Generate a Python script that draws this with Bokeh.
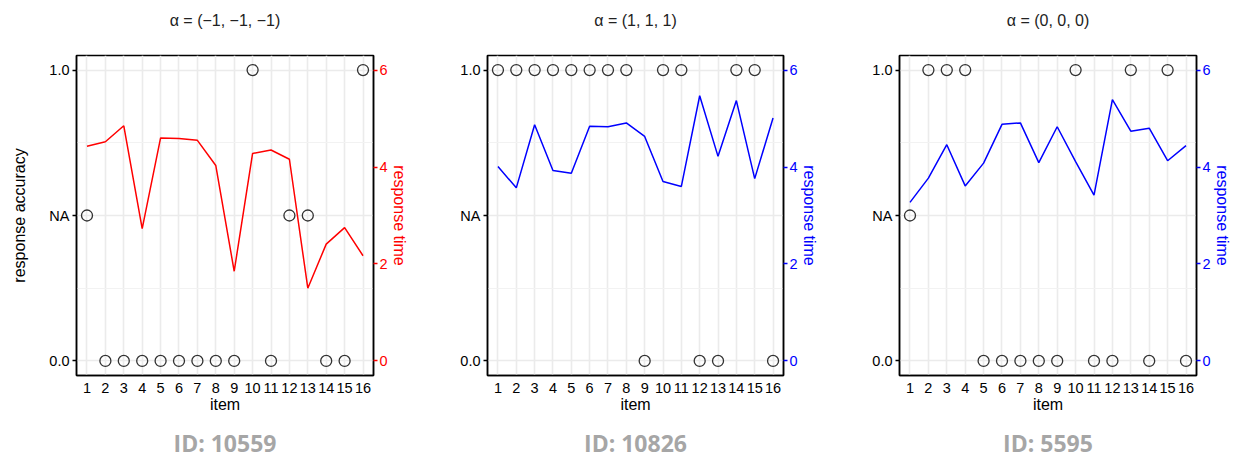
from bokeh.plotting import figure
from bokeh.models import Range1d, LinearAxis, FixedTicker, Title
from bokeh.layouts import row
from bokeh.embed import file_html
from bokeh.resources import INLINE

items = list(range(1, 17))

titles = ["α = (−1, −1, −1)", "α = (1, 1, 1)", "α = (0, 0, 0)"]
ids = ["ID: 10559", "ID: 10826", "ID: 5595"]
line_colors = ["#ff0000", "#0000ff", "#0000ff"]

rt_1 = [4.43, 4.52, 4.85, 2.73, 4.60, 4.59, 4.55, 4.03, 1.85, 4.28, 4.35, 4.16, 1.50, 2.41, 2.75, 2.17]
rt_2 = [4.01, 3.57, 4.87, 3.93, 3.87, 4.84, 4.83, 4.91, 4.63, 3.70, 3.60, 5.47, 4.22, 5.37, 3.76, 5.01]
rt_3 = [3.27, 3.77, 4.46, 3.61, 4.08, 4.88, 4.91, 4.09, 4.83, 4.11, 3.42, 5.39, 4.74, 4.80, 4.13, 4.44]

acc_1 = ["NA", 0, 0, 0, 0, 0, 0, 0, 0, 1, 0, "NA", "NA", 0, 0, 1]
acc_2 = [1, 1, 1, 1, 1, 1, 1, 1, 0, 1, 1, 0, 0, 1, 1, 0]
acc_3 = ["NA", 1, 1, 1, 0, 0, 0, 0, 0, 1, 0, 0, 1, 0, 1, 0]

acc_ticks = [0, 0.5, 1]
acc_tick_labels = ["0.0", "NA", "1.0"]
rt_ticks = [0, 2, 4, 6]

FONT = "Liberation Sans"

panels = [
    (rt_1, acc_1, 410, 76, 34, True),
    (rt_2, acc_2, 410, 77, 33, False),
    (rt_3, acc_3, 413, 79, 34, False),
]


def spacer(gap):
    return Title(text=".", text_font_size="2px", standoff=gap, text_color="white")


figs = []
for i, (rt, acc, w, bl, br, show_ylabel) in enumerate(panels):
    col = line_colors[i]
    p = figure(width=w, height=461, output_backend="svg", toolbar_location=None,
               x_range=Range1d(0.43, 16.57), y_range=Range1d(-0.05, 1.05),
               min_border_left=bl, min_border_right=br, min_border_top=55, min_border_bottom=86,
               title=None)
    p.extra_y_ranges = {"rt": Range1d(-0.3, 6.3)}
    p.background_fill_color = "white"
    p.outline_line_color = "black"
    p.outline_line_width = 1.5

    p.add_layout(spacer(22), "above")
    t = Title(text=titles[i], align="center", vertical_align="top", text_font=FONT,
              text_font_size="16px", text_font_style="normal", text_color="#222222",
              standoff=0)
    p.add_layout(t, "above")

    # axes
    p.xaxis.ticker = FixedTicker(ticks=items)
    p.xaxis.axis_label = "item"
    p.xaxis.axis_label_text_font = FONT
    p.xaxis.axis_label_text_font_size = "16px"
    p.xaxis.axis_label_text_font_style = "normal"
    p.xaxis.axis_label_text_color = "black"
    p.xaxis.axis_label_standoff = 0
    p.xaxis.major_label_text_font = FONT
    p.xaxis.major_label_text_font_size = "14.5px"
    p.xaxis.major_label_text_color = "black"
    p.xaxis.major_label_standoff = 7
    p.xaxis.major_tick_out = 0
    p.xaxis.major_tick_in = 0
    p.xaxis.minor_tick_out = 0
    p.xaxis.minor_tick_in = 0
    p.xaxis.axis_line_color = "black"
    p.xaxis.axis_line_width = 1.5

    p.yaxis.ticker = FixedTicker(ticks=acc_ticks, minor_ticks=[0.25, 0.75])
    p.yaxis.major_label_overrides = {k: v for k, v in zip(acc_ticks, acc_tick_labels)}
    p.yaxis.major_label_text_font = FONT
    p.yaxis.major_label_text_font_size = "14.5px"
    p.yaxis.major_label_text_color = "black"
    p.yaxis.major_label_standoff = 3
    p.yaxis.major_tick_out = 4
    p.yaxis.major_tick_in = 0
    p.yaxis.minor_tick_out = 0
    p.yaxis.minor_tick_in = 0
    p.yaxis.major_tick_line_color = "black"
    p.yaxis.major_tick_line_width = 1.3
    p.yaxis.axis_line_color = "black"
    p.yaxis.axis_line_width = 1.5
    if show_ylabel:
        p.yaxis.axis_label = "response accuracy"
        p.yaxis.axis_label_text_font = FONT
        p.yaxis.axis_label_text_font_size = "16px"
        p.yaxis.axis_label_text_font_style = "normal"
        p.yaxis.axis_label_text_color = "black"
        p.yaxis.axis_label_standoff = 18

    ra = LinearAxis(y_range_name="rt", ticker=FixedTicker(ticks=rt_ticks),
                    axis_label="response time")
    ra.axis_label_text_color = col
    ra.axis_label_text_font = FONT
    ra.axis_label_text_font_size = "16px"
    ra.axis_label_text_font_style = "normal"
    ra.axis_label_standoff = 0
    ra.major_label_text_color = col
    ra.major_label_text_font = FONT
    ra.major_label_text_font_size = "14.5px"
    ra.major_label_standoff = 2
    ra.major_tick_line_color = col
    ra.major_tick_line_width = 1.3
    ra.major_tick_out = 4
    ra.major_tick_in = 0
    ra.minor_tick_out = 0
    ra.minor_tick_in = 0
    ra.axis_line_color = "black"
    ra.axis_line_width = 1.5
    p.add_layout(ra, "right")

    p.add_layout(spacer(6), "below")
    idt = Title(text=ids[i], align="center", vertical_align="bottom", text_font="Open Sans",
                text_font_size="23px", text_font_style="bold", text_color="#a6a6a6",
                standoff=0)
    p.add_layout(idt, "below")

    # grids
    p.xgrid.grid_line_color = "#ebebeb"
    p.xgrid.grid_line_width = 1.6
    p.ygrid.grid_line_color = "#ebebeb"
    p.ygrid.grid_line_width = 1.6
    p.ygrid.minor_grid_line_color = "#f2f2f2"
    p.ygrid.minor_grid_line_width = 1.2

    # data
    acc_pos = [0.5 if a == "NA" else a for a in acc]
    p.line(items, rt, y_range_name="rt", line_color=col, line_width=1.5)
    p.scatter(items, acc_pos, marker="circle", size=11, fill_color=None,
              line_color="#333333", line_width=1.3)

    figs.append(p)

layout = row(*figs, spacing=0)
open("out.html", "w").write(file_html(layout, INLINE))
